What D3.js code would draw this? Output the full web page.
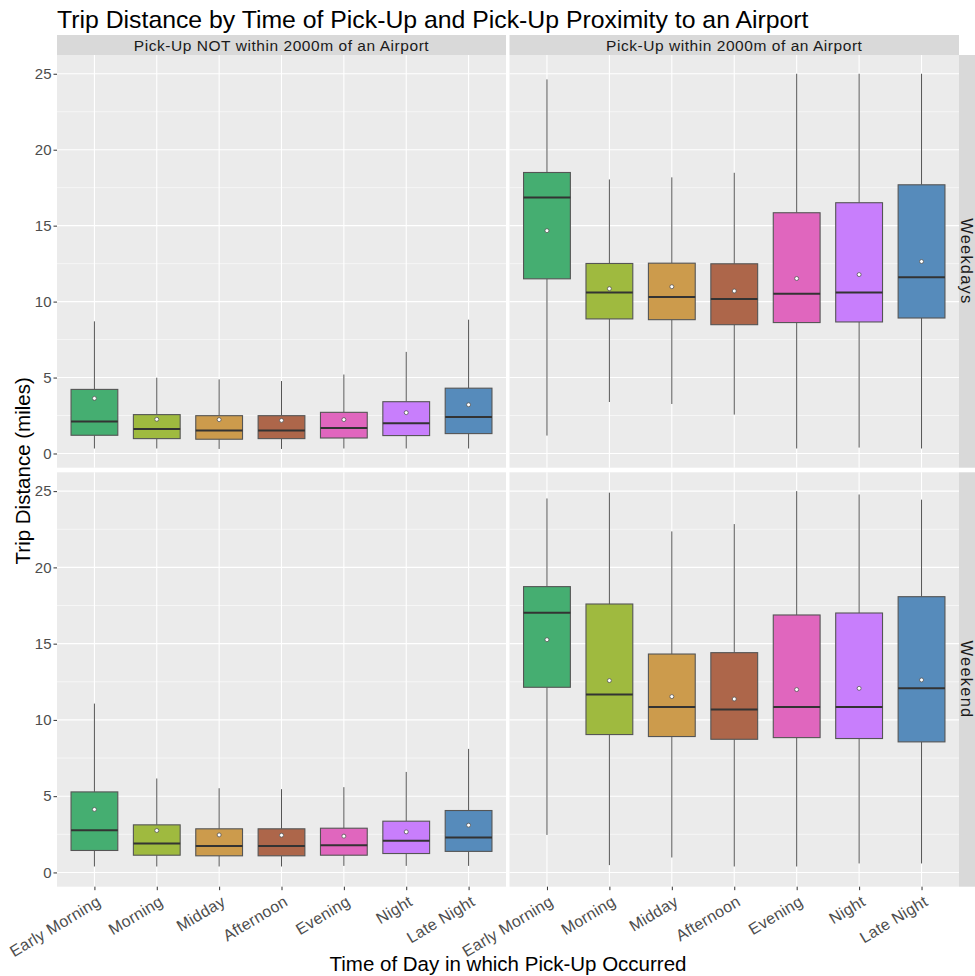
<!DOCTYPE html>
<html>
<head>
<meta charset="utf-8">
<script src="https://cdn.jsdelivr.net/npm/d3@7"></script>
<style>
  body { margin: 0; background: #fff; }
  svg { display: block; font-family: "Liberation Sans", Arial, sans-serif; }
</style>
</head>
<body>
<svg id="chart" width="975" height="976"></svg>
<script>
// Time-of-day categories (x axis) and their fill colours
const periods = ["Early Morning", "Morning", "Midday", "Afternoon", "Evening", "Night", "Late Night"];
const periodColors = ["#45ae71", "#9fba3f", "#cc9b4c", "#ad664a", "#e066be", "#c87efc", "#568bbb"];

// Facet labels
const airportGroups = ["Pick-Up NOT within 2000m of an Airport", "Pick-Up within 2000m of an Airport"];
const dayGroups = ["Weekdays", "Weekend"];

// Box statistics per period: [lower whisker, Q1, median, Q3, upper whisker, mean]
const weekdayNotAirport = [
  [0.33, 1.20, 2.10, 4.22, 8.70, 3.63],
  [0.33, 0.98, 1.61, 2.56, 4.99, 2.25],
  [0.30, 0.94, 1.51, 2.49, 4.88, 2.23],
  [0.30, 0.98, 1.51, 2.49, 4.77, 2.18],
  [0.33, 1.02, 1.68, 2.71, 5.20, 2.23],
  [0.33, 1.18, 1.99, 3.41, 6.69, 2.69],
  [0.33, 1.31, 2.40, 4.30, 8.81, 3.21]
];
const weekdayAirport = [
  [1.18, 11.50, 16.86, 18.50, 24.63, 14.67],
  [3.39, 8.86, 10.60, 12.51, 18.04, 10.85],
  [3.26, 8.81, 10.30, 12.53, 18.18, 10.98],
  [2.56, 8.48, 10.17, 12.49, 18.48, 10.70],
  [0.33, 8.62, 10.52, 15.85, 25.00, 11.52],
  [0.39, 8.66, 10.60, 16.51, 25.00, 11.78],
  [0.33, 8.92, 11.61, 17.69, 25.00, 12.64]
];
const weekendNotAirport = [
  [0.39, 1.44, 2.76, 5.28, 11.07, 4.13],
  [0.39, 1.13, 1.90, 3.12, 6.16, 2.75],
  [0.39, 1.09, 1.74, 2.86, 5.52, 2.46],
  [0.39, 1.09, 1.74, 2.86, 5.46, 2.44],
  [0.43, 1.13, 1.79, 2.90, 5.59, 2.38],
  [0.43, 1.24, 2.07, 3.36, 6.59, 2.66],
  [0.43, 1.38, 2.29, 4.06, 8.10, 3.10]
];
const weekendAirport = [
  [2.46, 12.14, 17.03, 18.74, 24.52, 15.26],
  [0.48, 9.04, 11.66, 17.60, 24.90, 12.58],
  [0.98, 8.91, 10.85, 14.32, 22.36, 11.53],
  [0.39, 8.73, 10.68, 14.41, 22.84, 11.37],
  [0.39, 8.84, 10.85, 16.88, 25.00, 11.99],
  [0.59, 8.78, 10.85, 17.01, 24.78, 12.07],
  [0.59, 8.56, 12.07, 18.08, 24.44, 12.62]
];

const yTicks = [0, 5, 10, 15, 20, 25];
const yMinorTicks = [2.5, 7.5, 12.5, 17.5, 22.5];

const chartTitle = "Trip Distance by Time of Pick-Up and Pick-Up Proximity to an Airport";
const xTitle = "Time of Day in which Pick-Up Occurred";
const yTitle = "Trip Distance (miles)";

// Facet grid: rows = day group, columns = airport group
const facets = [
  { row: 0, col: 0, stats: weekdayNotAirport },
  { row: 0, col: 1, stats: weekdayAirport },
  { row: 1, col: 0, stats: weekendNotAirport },
  { row: 1, col: 1, stats: weekendAirport }
];

const svg = d3.select("#chart");

const colX = [[57, 506], [509.5, 959]];
const rowY = [[55, 467.7], [472.3, 886.7]];
const stripH = 20, stripW = 16;

// Shared y domain from the whisker extent, padded 5% each side
const allVals = facets.flatMap(f => f.stats.flatMap(s => [s[0], s[4]]));
const lo = d3.min(allVals), hi = d3.max(allVals);
const pad = (hi - lo) * 0.05;
const yDomain = [lo - pad, hi + pad];

const color = d3.scaleOrdinal().domain(periods).range(periodColors);

facets.forEach(f => {
  const [x0, x1] = colX[f.col];
  const [y0, y1] = rowY[f.row];
  const x = d3.scalePoint().domain(periods).range([x0, x1]).padding(0.6);
  const y = d3.scaleLinear().domain(yDomain).range([y1, y0]);
  const bw = x.step() * 0.75;

  const g = svg.append("g");
  g.append("rect").attr("x", x0).attr("y", y0).attr("width", x1 - x0).attr("height", y1 - y0).attr("fill", "#ebebeb");

  // grid lines
  g.selectAll(".ymin").data(yMinorTicks).join("line")
    .attr("x1", x0).attr("x2", x1).attr("y1", d => y(d)).attr("y2", d => y(d))
    .attr("stroke", "#fff").attr("stroke-width", 0.55);
  g.selectAll(".ymaj").data(yTicks).join("line")
    .attr("x1", x0).attr("x2", x1).attr("y1", d => y(d)).attr("y2", d => y(d))
    .attr("stroke", "#fff").attr("stroke-width", 1.1);
  g.selectAll(".xmaj").data(periods).join("line")
    .attr("x1", d => x(d)).attr("x2", d => x(d)).attr("y1", y0).attr("y2", y1)
    .attr("stroke", "#fff").attr("stroke-width", 1.1);

  const boxes = g.selectAll(".box").data(f.stats.map((s, i) => ({ p: periods[i], s })))
    .join("g");
  // whiskers
  boxes.append("line")
    .attr("x1", d => x(d.p)).attr("x2", d => x(d.p))
    .attr("y1", d => y(d.s[0])).attr("y2", d => y(d.s[1]))
    .attr("stroke", "#555").attr("stroke-width", 1);
  boxes.append("line")
    .attr("x1", d => x(d.p)).attr("x2", d => x(d.p))
    .attr("y1", d => y(d.s[3])).attr("y2", d => y(d.s[4]))
    .attr("stroke", "#555").attr("stroke-width", 1);
  // boxes
  boxes.append("rect")
    .attr("x", d => x(d.p) - bw / 2).attr("width", bw)
    .attr("y", d => y(d.s[3])).attr("height", d => y(d.s[1]) - y(d.s[3]))
    .attr("fill", d => color(d.p)).attr("stroke", "#555").attr("stroke-width", 1.1);
  // median
  boxes.append("line")
    .attr("x1", d => x(d.p) - bw / 2).attr("x2", d => x(d.p) + bw / 2)
    .attr("y1", d => y(d.s[2])).attr("y2", d => y(d.s[2]))
    .attr("stroke", "#333").attr("stroke-width", 2);
  // mean marker
  boxes.append("circle")
    .attr("cx", d => x(d.p)).attr("cy", d => y(d.s[5])).attr("r", 2)
    .attr("fill", "#fff").attr("stroke", "#555").attr("stroke-width", 0.8);

  // y axis on left column
  if (f.col === 0) {
    const ax = svg.append("g").attr("transform", `translate(${x0},0)`)
      .call(d3.axisLeft(y).tickValues(yTicks).tickSize(3.5).tickPadding(2));
    ax.select(".domain").remove();
    ax.selectAll(".tick line").attr("stroke", "#333").attr("stroke-width", 1);
    ax.selectAll(".tick text").attr("fill", "#4d4d4d").attr("font-size", 15)
      .attr("font-family", "Liberation Sans, Arial, sans-serif");
  }
  // x axis on bottom row
  if (f.row === 1) {
    const ax = svg.append("g").attr("transform", `translate(0,${y1})`)
      .call(d3.axisBottom(x).tickSize(3.5).tickPadding(3));
    ax.select(".domain").remove();
    ax.selectAll(".tick line").attr("stroke", "#333").attr("stroke-width", 1);
    ax.selectAll(".tick text").attr("fill", "#4d4d4d").attr("font-size", 16)
      .attr("font-family", "Liberation Sans, Arial, sans-serif")
      .attr("text-anchor", "end").attr("y", 0).attr("dy", "0.72em")
      .attr("letter-spacing", 0.3)
      .attr("transform", "translate(1,8) rotate(-31)");
  }
  // top strip
  if (f.row === 0) {
    svg.append("rect").attr("x", x0).attr("y", y0 - stripH).attr("width", x1 - x0).attr("height", stripH).attr("fill", "#d9d9d9");
    svg.append("text").attr("x", (x0 + x1) / 2).attr("y", y0 - stripH / 2).attr("dy", "0.36em")
      .attr("text-anchor", "middle").attr("font-size", 15.5).attr("letter-spacing", 0.55).attr("fill", "#1a1a1a")
      .text(airportGroups[f.col]);
  }
  // right strip
  if (f.col === 1) {
    svg.append("rect").attr("x", x1).attr("y", y0).attr("width", stripW).attr("height", y1 - y0).attr("fill", "#d9d9d9");
    svg.append("text").attr("transform", `translate(${x1 + stripW / 2},${(y0 + y1) / 2}) rotate(90)`)
      .attr("dy", "0.36em").attr("text-anchor", "middle").attr("font-size", 16.5).attr("letter-spacing", 1.2).attr("fill", "#1a1a1a")
      .text(dayGroups[f.row]);
  }
});

// titles
svg.append("text").attr("x", 57).attr("y", 28).attr("font-size", 24.8).attr("fill", "#000").text(chartTitle);
svg.append("text").attr("x", (colX[0][0] + colX[1][1]) / 2).attr("y", 971)
  .attr("text-anchor", "middle").attr("font-size", 20.5).attr("fill", "#000").text(xTitle);
svg.append("text").attr("transform", `translate(30,${(rowY[0][0] + rowY[1][1]) / 2}) rotate(-90)`)
  .attr("text-anchor", "middle").attr("font-size", 20.5).attr("fill", "#000").text(yTitle);
</script>
</body>
</html>
